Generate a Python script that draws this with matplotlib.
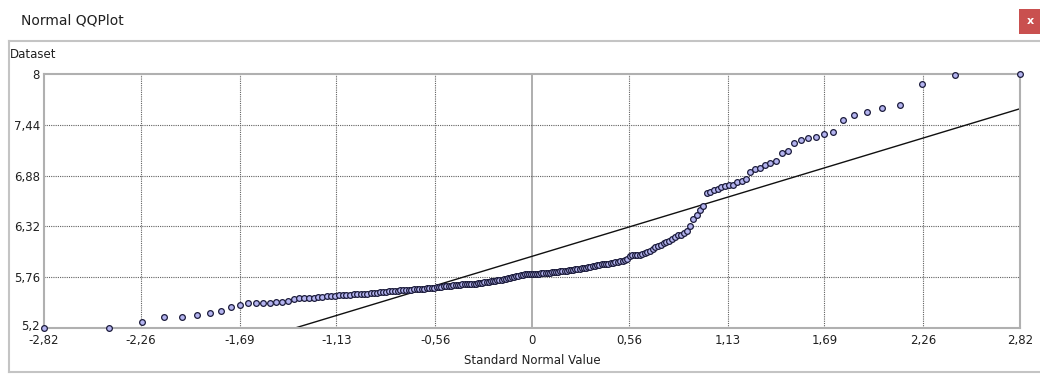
"""Normal QQPlot window (ArcGIS-style) for the Dataset values, redrawn with matplotlib."""
import matplotlib
matplotlib.use("Agg")
import matplotlib.pyplot as plt
import matplotlib.transforms as mtransforms
from matplotlib.lines import Line2D
from matplotlib.patches import Rectangle
from statistics import NormalDist

# sorted dataset values (208 points)
values = [
    5.20, 5.20, 5.27, 5.32, 5.32, 5.34, 5.36, 5.39, 5.43, 5.45,
    5.48, 5.48, 5.48, 5.48, 5.49, 5.49, 5.50, 5.52, 5.53, 5.53,
    5.53, 5.53, 5.54, 5.54, 5.55, 5.55, 5.55, 5.56, 5.56, 5.56,
    5.56, 5.57, 5.57, 5.57, 5.58, 5.58, 5.59, 5.59, 5.59, 5.60,
    5.60, 5.60, 5.61, 5.61, 5.61, 5.61, 5.62, 5.62, 5.62, 5.62,
    5.62, 5.63, 5.63, 5.63, 5.63, 5.63, 5.64, 5.64, 5.64, 5.64,
    5.65, 5.65, 5.65, 5.66, 5.66, 5.66, 5.66, 5.67, 5.67, 5.67,
    5.67, 5.68, 5.68, 5.68, 5.68, 5.69, 5.69, 5.69, 5.70, 5.70,
    5.70, 5.71, 5.71, 5.71, 5.72, 5.72, 5.72, 5.73, 5.73, 5.73,
    5.74, 5.74, 5.75, 5.75, 5.76, 5.76, 5.77, 5.77, 5.78, 5.78,
    5.79, 5.79, 5.79, 5.80, 5.80, 5.80, 5.80, 5.80, 5.81, 5.81,
    5.81, 5.81, 5.81, 5.82, 5.82, 5.82, 5.82, 5.83, 5.83, 5.83,
    5.83, 5.84, 5.84, 5.84, 5.85, 5.85, 5.85, 5.86, 5.86, 5.86,
    5.87, 5.87, 5.88, 5.88, 5.89, 5.89, 5.90, 5.90, 5.91, 5.91,
    5.92, 5.92, 5.93, 5.93, 5.94, 5.94, 5.95, 5.96, 5.99, 6.00,
    6.00, 6.01, 6.01, 6.02, 6.03, 6.04, 6.05, 6.07, 6.09, 6.10,
    6.12, 6.14, 6.15, 6.16, 6.18, 6.20, 6.22, 6.23, 6.25, 6.27,
    6.32, 6.40, 6.45, 6.50, 6.55, 6.69, 6.70, 6.72, 6.73, 6.75,
    6.76, 6.78, 6.78, 6.81, 6.82, 6.84, 6.92, 6.95, 6.96, 7.00,
    7.02, 7.04, 7.13, 7.15, 7.24, 7.27, 7.29, 7.31, 7.34, 7.36,
    7.49, 7.55, 7.58, 7.62, 7.66, 7.89, 7.99, 8.00,
]
# reference line: value = intercept + slope * z
line_intercept = 5.99
line_slope = 0.577

x_ticks = [-2.82, -2.26, -1.69, -1.13, -0.56, 0, 0.56, 1.13, 1.69, 2.26, 2.82]
x_labels = ["-2,82", "-2,26", "-1,69", "-1,13", "-0,56", "0", "0,56", "1,13", "1,69", "2,26", "2,82"]
y_ticks = [5.2, 5.76, 6.32, 6.88, 7.44, 8]
y_labels = ["5,2", "5,76", "6,32", "6,88", "7,44", "8"]

# theoretical normal quantiles, plotting position (i - 0.5) / n
n = len(values)
nd = NormalDist()
z = [nd.inv_cdf((i + 0.5) / n) for i in range(n)]

W, H = 1040, 374
fig = plt.figure(figsize=(W / 100, H / 100), dpi=100)
fig.patch.set_facecolor("white")
plt.rcParams["font.family"] = ["DejaVu Sans"]

def fx(px): return px / W
def fy(py): return 1 - py / H

# window chrome: title, close button, panel border
fig.text(fx(21), fy(20), "Normal QQPlot", fontsize=10, va="center", ha="left", color="#202020")
fig.add_artist(Rectangle((fx(1019), fy(34)), fx(21), 25 / H, transform=fig.transFigure,
                         facecolor="#c9504f", edgecolor="none"))
fig.text(fx(1030), fy(21), "x", fontsize=8, color="white", ha="center", va="center", weight="bold")
for xs, ys in [((9, 1040), (41, 41)), ((9, 9), (41, 372)), ((9, 1040), (372, 372))]:
    fig.add_artist(Line2D([fx(v) for v in xs], [fy(v) for v in ys], transform=fig.transFigure,
                          color="#c4c4c4", lw=1.5))
fig.text(fx(10), fy(55), "Dataset", fontsize=8.5, va="center", ha="left", color="#202020")

ax = fig.add_axes([fx(44), fy(328), (1020 - 44) / W, (328 - 74) / H])
ax.set_xlim(-2.82, 2.82); ax.set_ylim(5.2, 8)

for t in x_ticks[1:-1]:
    if t == 0:
        ax.axvline(t, color="#a8a8a8", lw=1.3, zorder=1)
    else:
        ax.axvline(t, color="#606060", lw=0.8, ls=(0, (1, 1)), zorder=1)
for t in y_ticks[1:-1]:
    ax.axhline(t, color="#606060", lw=0.8, ls=(0, (1, 1)), zorder=1)

zz = [-2.82, 2.82]
ax.plot(zz, [line_intercept + line_slope * v for v in zz], color="#101010", lw=1.0, zorder=2)
ax.scatter(z, values, s=17, facecolor="#b4b4f0", edgecolor="#1c1c3c", linewidth=0.9,
           zorder=3, clip_on=False)

for s in ax.spines.values():
    s.set_color("#b0b0b0"); s.set_linewidth(1.5)
ax.set_xticks(x_ticks); ax.set_xticklabels(x_labels)
ax.set_yticks(y_ticks); ax.set_yticklabels(y_labels)
ax.tick_params(length=0, labelsize=8.5, colors="#202020")
ax.tick_params(axis="y", pad=3)
ax.tick_params(axis="x", pad=4)
# lift the bottom y label a little so it sits just above the first x label
lbl = ax.get_yticklabels()[0]
lbl.set_transform(lbl.get_transform() + mtransforms.ScaledTranslation(0, 3 / 100, fig.dpi_scale_trans))
ax.set_xlabel("Standard Normal Value", fontsize=8.5, color="#202020", labelpad=5)

fig.savefig("out.png", dpi=100)
